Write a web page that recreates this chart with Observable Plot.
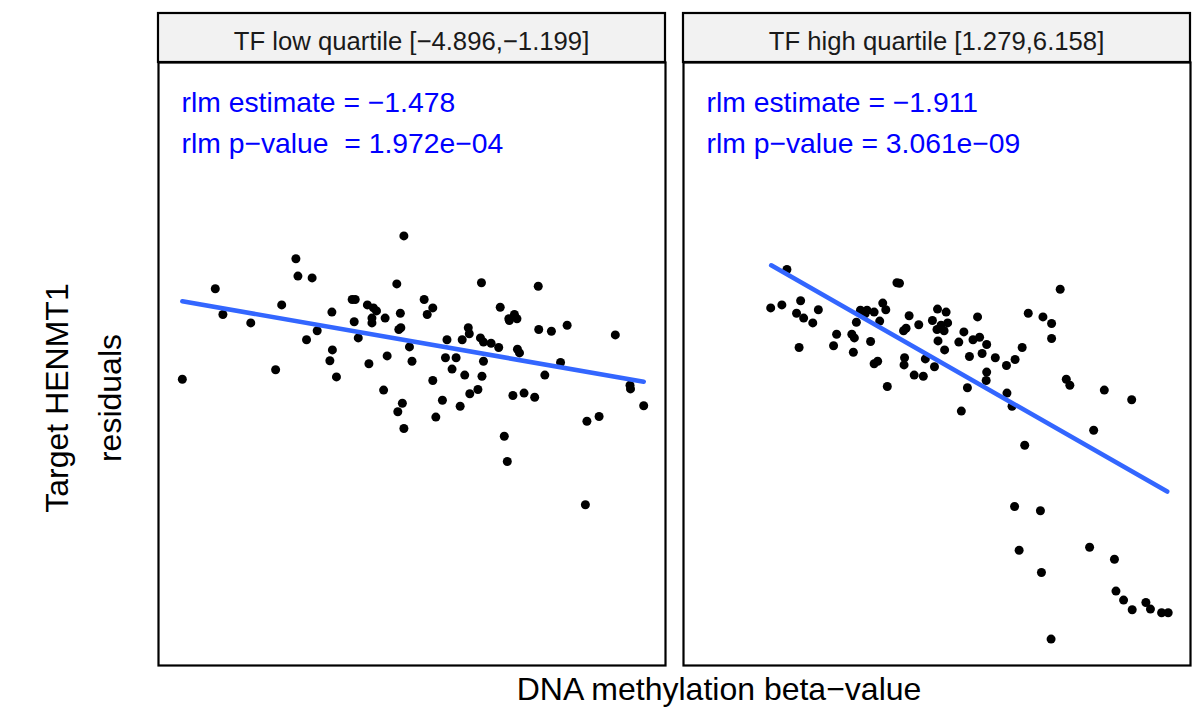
<!DOCTYPE html>
<html>
<head>
<meta charset="utf-8">
<script src="https://cdn.jsdelivr.net/npm/d3@7"></script>
<script src="https://cdn.jsdelivr.net/npm/@observablehq/plot@0.6"></script>
<style>
  html, body { margin: 0; padding: 0; background: #fff; }
  #chart { width: 1199px; height: 707px; }
  svg { font-family: "Liberation Sans", Arial, Helvetica, sans-serif; }
</style>
</head>
<body>
<div id="chart"></div>
<script>
// ---------- data ----------
const panels = ["low", "high"];
const stripLabels = ["TF low quartile [\u22124.896,\u22121.199]", "TF high quartile [1.279,6.158]"];
const estimateLabels = ["rlm estimate = \u22121.478", "rlm estimate = \u22121.911"];
const pvalueLabels = ["rlm p\u2212value\u00A0 = 1.972e\u221204", "rlm p\u2212value = 3.061e\u221209"];
const xTitle = "DNA methylation beta\u2212value";
const yTitleLines = ["Target HENMT1", "residuals"];

// low-quartile panel: methylation beta-value and residuals
const lowX = [0.484,0.271,0.275,0.303,0.112,0.470,0.127,0.182,0.243,0.342,0.382,0.388,0.412,0.424,0.430,0.421,0.421,0.447,0.477,0.474,0.478,0.386,0.313,0.292,0.394,0.495,0.343,0.338,0.351,0.415,0.451,0.500,0.231,0.047,0.444,0.481,0.472,0.484,
  0.637,0.749,0.524,0.541,0.530,0.674,0.702,0.692,0.707,0.691,0.750,0.775,0.806,0.901,0.611,0.613,0.569,0.599,0.635,0.641,0.656,0.671,0.566,0.587,0.579,0.708,0.712,0.793,0.762,0.641,0.604,0.638,0.541,0.630,0.614,0.560,0.595,0.547,0.699,0.721,0.742,0.930,0.931,0.957,0.845,0.869,0.682,0.688,0.842];
const lowY = [2.16,1.78,1.49,1.46,1.28,1.36,0.85,0.71,1.01,0.89,1.10,1.10,1.01,0.96,0.91,0.79,0.71,0.79,0.87,0.60,0.63,0.73,0.58,0.43,0.46,0.31,0.26,0.08,-0.19,0.03,0.16,0.07,-0.07,-0.23,-0.41,-0.63,-0.77,-1.05,
  1.38,1.32,1.10,0.96,0.85,0.97,0.85,0.75,0.78,0.78,0.60,0.57,0.67,0.51,0.63,0.53,0.43,0.43,0.46,0.39,0.37,0.30,0.13,0.13,-0.06,0.27,0.21,0.05,-0.16,0.07,-0.16,-0.18,-0.25,-0.40,-0.47,-0.58,-0.68,-0.86,-0.50,-0.46,-0.53,-0.33,-0.39,-0.67,-0.93,-0.85,-1.18,-1.60,-2.32];

// high-quartile panel
const highX = [0.204,0.421,0.426,0.172,0.194,0.231,0.223,0.237,0.255,0.266,0.228,0.302,0.296,0.332,0.337,0.335,0.341,0.349,0.362,0.358,0.376,0.393,0.399,0.387,0.369,0.376,0.383,0.402,0.434,0.439,0.445,0.464,0.436,0.435,0.455,0.473,0.477,
  0.743,0.501,0.518,0.491,0.508,0.521,0.500,0.514,0.502,0.515,0.495,0.580,0.553,0.543,0.571,0.584,0.598,0.564,0.589,0.615,0.637,0.654,0.668,0.680,0.709,0.726,0.726,0.598,0.597,0.560,0.548,0.638,0.648,0.755,0.762,0.830,0.884,0.809,0.673,
  0.653,0.704,0.662,0.706,0.801,0.850,0.853,0.868,0.885,0.912,0.921,0.943,0.956,0.725];
const highY = [1.60,1.38,1.37,0.96,1.01,1.08,0.87,0.79,0.71,0.93,0.30,0.52,0.33,0.52,0.46,0.22,0.72,0.92,0.92,0.86,0.89,1.04,0.93,0.74,0.40,0.03,0.07,-0.35,0.58,0.62,0.83,0.68,0.13,0.01,-0.16,-0.18,0.11,
  1.27,0.94,0.89,0.75,0.67,0.71,0.60,0.58,0.41,0.26,-0.02,0.81,0.56,0.39,0.43,0.47,0.35,0.15,0.20,0.13,0.00,0.10,0.30,0.87,0.81,0.70,0.45,-0.11,-0.25,-0.37,-0.76,-0.46,-0.68,-0.23,-0.33,-0.41,-0.57,-1.08,-1.33,
  -2.35,-2.42,-3.08,-3.45,-3.03,-3.23,-3.76,-3.91,-4.07,-3.95,-4.06,-4.12,-4.12,-4.56];

// rlm fit lines (endpoints over each panel's data range)
const lowFitX = [0.047, 0.957];
const lowFitY = [1.07, -0.27];
const highFitX = [0.173, 0.954];
const highFitY = [1.67, -2.10];

// ---------- tables for the library ----------
const points = [
  ...lowX.map((x, i) => ({panel: "low", x, y: lowY[i]})),
  ...highX.map((x, i) => ({panel: "high", x, y: highY[i]}))
];
const fits = [
  ...lowFitX.map((x, i) => ({panel: "low", x, y: lowFitY[i]})),
  ...highFitX.map((x, i) => ({panel: "high", x, y: highFitY[i]}))
];
const annots = panels.map((p, i) => ({panel: p, est: estimateLabels[i], pv: pvalueLabels[i]}));

const W = 1199, H = 707;
const plot = Plot.plot({
  width: W,
  height: H,
  marginLeft: 158,
  marginRight: 8,
  marginTop: 62,
  marginBottom: 42,
  style: {fontFamily: '"Liberation Sans", Arial, Helvetica, sans-serif', background: "#fff"},
  fx: {domain: panels, paddingInner: 0.03425, paddingOuter: 0, axis: null, label: null},
  x: {domain: [0, 1], axis: null},
  y: {domain: [-5.0, 5.05], axis: null},
  marks: [
    Plot.dot(points, {fx: "panel", x: "x", y: "y", r: 4.5, fill: "black", stroke: "none"}),
    Plot.line(fits, {fx: "panel", x: "x", y: "y", z: "panel", stroke: "#3366FF", strokeWidth: 4.6}),
    Plot.text(annots, {fx: "panel", frameAnchor: "top-left", text: "est", dx: 23, dy: 40.5,
      textAnchor: "start", lineAnchor: "middle", fill: "#0000FF", fontSize: 28.3}),
    Plot.text(annots, {fx: "panel", frameAnchor: "top-left", text: "pv", dx: 23, dy: 81.5,
      textAnchor: "start", lineAnchor: "middle", fill: "#0000FF", fontSize: 28.3}),
    Plot.frame({stroke: "black", strokeWidth: 2.2, fill: "none"})
  ]
});

const svg = d3.select(plot);
const fx = plot.scale("fx");
const bw = fx.bandwidth;
const stripTop = 13, stripBottom = 62;

panels.forEach((p, i) => {
  const x0 = fx.apply(p);
  svg.append("rect")
    .attr("x", x0).attr("y", stripTop)
    .attr("width", bw).attr("height", stripBottom - stripTop)
    .attr("fill", "#F2F2F2").attr("stroke", "black").attr("stroke-width", 2.2);
  svg.append("text")
    .attr("x", x0 + bw / 2).attr("y", 50)
    .attr("text-anchor", "middle")
    .attr("fill", "#1A1A1A")
    .style("font-size", "25.7px")
    .text(stripLabels[i]);
});

// axis titles
svg.append("text")
  .attr("x", 719).attr("y", 700)
  .attr("text-anchor", "middle")
  .attr("fill", "black")
  .style("font-size", "32px")
  .text(xTitle);

[68, 121].forEach((bx, i) => {
  svg.append("text")
    .attr("transform", `translate(${bx},398) rotate(-90)`)
    .attr("text-anchor", "middle")
    .attr("fill", "black")
    .style("font-size", "32px")
    .text(yTitleLines[i]);
});

document.getElementById("chart").appendChild(plot);
</script>
</body>
</html>
